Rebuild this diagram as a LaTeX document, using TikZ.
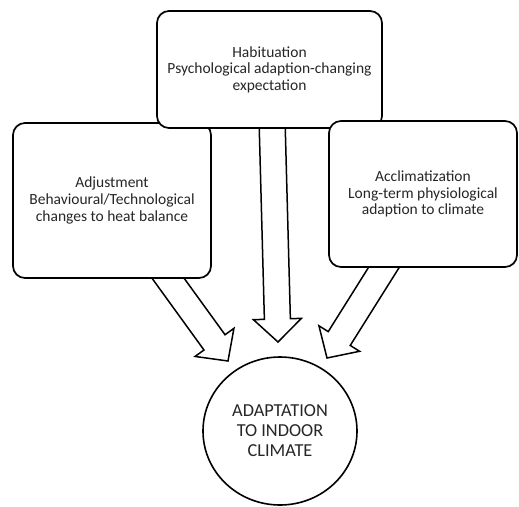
\documentclass[tikz,border=0pt]{standalone}
\usepackage{fontspec}
\setmainfont{Carlito}
\usetikzlibrary{calc,shapes.geometric}
\pgfdeclarelayer{background}
\pgfsetlayers{background,main}
\newcommand\blockarrow[2]{%
  \coordinate (bb) at ($(#2)!23pt!(#1)$);
  \draw[blk] ($(#1)!13pt!90:(#2)$) -- ($(bb)!13pt!-90:(#1)$) -- ($(bb)!24pt!-90:(#1)$) -- (#2)
    -- ($(bb)!24pt!90:(#1)$) -- ($(bb)!13pt!90:(#1)$) -- ($(#1)!13pt!-90:(#2)$) -- cycle;}
\begin{document}
\begin{tikzpicture}[x=1pt,y=-1pt,
  box/.style={draw, line width=1.7pt, rounded corners=12pt, fill=white, align=center,
    font=\fontsize{15.5}{16.6}\selectfont, inner sep=0pt, text=black!85},
  blk/.style={draw, line width=1.5pt, fill=white, line join=miter},
  goalstyle/.style={draw, ellipse, line width=1.6pt, fill=white, align=center,
    font=\fontsize{18.3}{20}\selectfont, inner sep=0pt, text=black!85}]
\useasboundingbox (0,0) rectangle (519,506);
\node[box, minimum width=198pt, minimum height=155pt] (adj) at (112,200.5)
  {Adjustment\\Behavioural/Technological\\changes to heat balance};
\node[box, minimum width=225pt, minimum height=117pt] (hab) at (269.5,69.5)
  {Habituation\\Psychological adaption-changing\\expectation};
\node[box, minimum width=188pt, minimum height=146pt] (acc) at (423,194)
  {Acclimatization\\Long-term physiological\\adaption to climate};
\node[goalstyle, minimum width=154pt, minimum height=148pt] (goal) at (280,431)
  {ADAPTATION\\TO INDOOR\\CLIMATE};
\coordinate (sL) at ($(adj.south)+(50,-9)$);
\coordinate (sM) at ($(hab.south)+(2.5,-10)$);
\coordinate (sR) at ($(acc.south)+(-35,-7)$);
\coordinate (tL) at (228,361);
\coordinate (tM) at (278,342);
\coordinate (tR) at (327,358);
\begin{pgfonlayer}{background}
\blockarrow{sL}{tL}
\blockarrow{sM}{tM}
\blockarrow{sR}{tR}
\end{pgfonlayer}
\end{tikzpicture}
\end{document}
